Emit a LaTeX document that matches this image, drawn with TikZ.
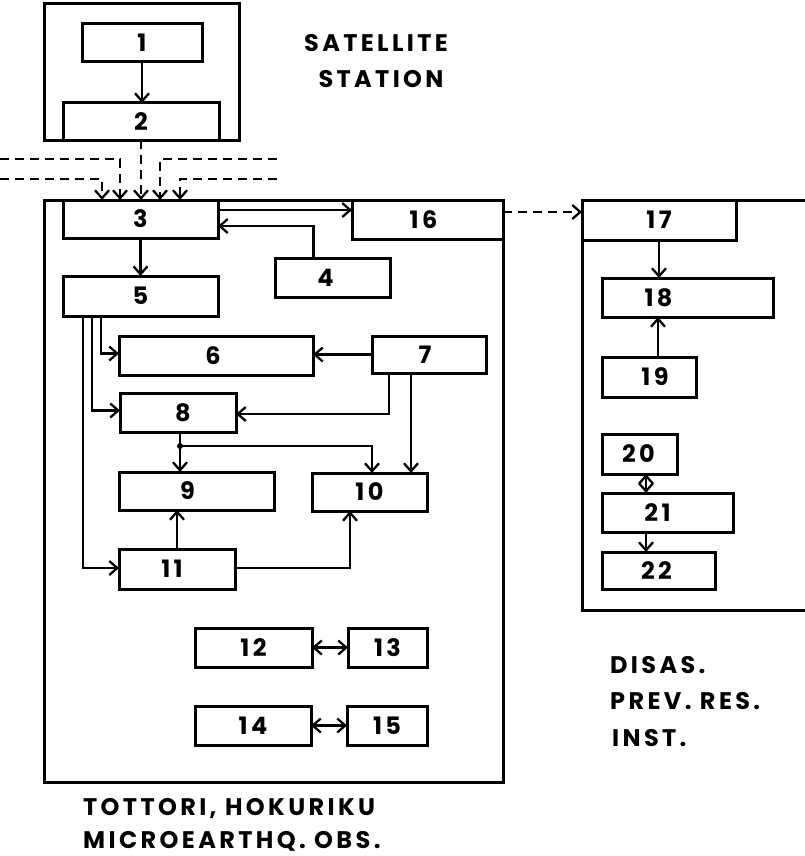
\documentclass[tikz,border=0pt]{standalone}
\usepackage{fontspec}
\setmainfont{Poppins}[LetterSpace=14]
\usetikzlibrary{arrows.meta,calc}
\tikzset{
  box/.style={draw, line width=3pt, inner sep=0pt, outer sep=0pt, font=\fontsize{24}{26}\selectfont\bfseries},
  frame/.style={draw, line width=3pt},
  arr/.style={line width=2.3pt, -{Straight Barb[length=8pt,width=14pt,line width=2.3pt]}},
  darr/.style={line width=2.3pt, {Straight Barb[length=8pt,width=14pt,line width=2.3pt]}-{Straight Barb[length=8pt,width=14pt,line width=2.3pt]}},
  dash arr/.style={arr, dash pattern=on 9pt off 6pt},
  lab/.style={font=\fontsize{24}{26}\selectfont\bfseries, inner sep=0pt}
}
\newcommand\bx[6]{\node[box, minimum width={(#4-#2)*1pt}, minimum height={(#5-#3)*1pt}] (#1) at ({(#2+#4)/2},{(#3+#5)/2}) {#6};}
\begin{document}
\begin{tikzpicture}[x=1pt,y=-1pt]
\useasboundingbox (0,0) rectangle (805,856);
% containers
\draw[frame] (44,4) rectangle (239,140);
\draw[frame] (44,200) rectangle (503,782);
\draw[frame] (805,200) -- (582,200) -- (582,610) -- (805,610);
% satellite station
\bx{b1}{82}{24}{202}{62}{1}
\bx{b2}{63}{103}{219}{140}{2}
% main
\bx{b3}{63}{200}{218}{238}{3}
\bx{b16}{352}{200}{503}{239}{16\hspace*{8pt}}
\bx{b4}{275}{258}{390}{297}{4\hspace*{14pt}}
\bx{b5}{63}{276}{218}{316}{5}
\bx{b6}{119}{336}{313}{375}{6\hspace*{6pt}}
\bx{b7}{372}{336}{486}{373}{7\hspace*{8pt}}
\bx{b8}{120}{393}{236}{432}{\hspace*{10pt}8}
\bx{b9}{119}{472}{274}{510}{9\hspace*{18pt}}
\bx{b10}{312}{473}{427}{511}{10}
\bx{b11}{119}{549}{235}{589}{11\hspace*{10pt}}
\bx{b12}{195}{628}{312}{667}{12}
\bx{b13}{348}{628}{427}{667}{13}
\bx{b14}{195}{706}{311}{745}{14}
\bx{b15}{347}{706}{427}{745}{15}
% DPRI
\bx{b17}{582}{200}{736}{240}{17}
\bx{b18}{602}{278}{773}{317}{18\hspace*{58pt}}
\bx{b19}{602}{357}{696}{397}{\hspace*{12pt}19}
\bx{b20}{602}{434}{677}{474}{20\hspace*{2pt}}
\bx{b21}{602}{493}{733}{532}{21\hspace*{20pt}}
\bx{b22}{602}{552}{715}{589}{22\hspace*{4pt}}
% labels
\node[lab] (sat1) at (376,43) {SATELLITE};
\node[lab] (sat2) at (381,79) {STATION};
\node[lab, anchor=base west] (tot1) at (83,815) {TOTTORI, HOKURIKU};
\node[lab, anchor=base west] (tot2) at (83,848) {MICROEARTHQ. OBS.};
\node[lab, anchor=west] (dp1) at (610,665) {DISAS.};
\node[lab, anchor=west] (dp2) at (610,701) {PREV. RES.};
\node[lab, anchor=west] (dp3) at (612,738) {INST.};
% free ends of incoming dashed lines
\coordinate (dl1) at (0,159);
\coordinate (dl2) at (0,179);
\coordinate (dr1) at (277,159);
\coordinate (dr2) at (277,179);
% connectors
\draw[arr] (b1.south) -- (b1.south |- b2.north);
\draw[dash arr] (b2.south) -- (b2.south |- b3.north);
\draw[dash arr] (dl1) -| ([xshift=57pt]b3.north west);
\draw[dash arr] (dl2) -| ([xshift=39pt]b3.north west);
\draw[dash arr] (dr1) -| ([xshift=97pt]b3.north west);
\draw[dash arr] (dr2) -| ([xshift=117pt]b3.north west);
\draw[arr] ([yshift=-10pt]b3.north east) -- ([yshift=-10pt]b16.north west);
\draw[arr] ([xshift=-19pt]b4.north) |- ([yshift=-26pt]b3.north east);
\draw[arr] (b3.south) -- (b3.south |- b5.north);
\draw[arr] ([xshift=38pt]b5.south west) |- ([yshift=2pt]b6.west);
\draw[arr] ([xshift=29pt]b5.south west) |- ([yshift=2pt]b8.west);
\draw[arr] ([xshift=20pt]b5.south west) |- ([yshift=1pt]b11.west);
\draw[arr] (b7.west) -- (b7.west -| b6.east);
\draw[arr] ([xshift=17pt]b7.south west) |- ([yshift=-1.5pt]b8.east);
\draw[arr] ([xshift=39pt]b7.south west) -- ([xshift=39pt]b7.south west |- b10.north);
\coordinate (j) at ([xshift=60pt,yshift=-14pt]b8.south west);
\draw[line width=2.3pt] (j |- b8.south) -- (j);
\draw[arr] (j) -- (j |- b9.north);
\draw[arr] (j) -| ([xshift=60pt]b10.north west);
\fill (j) circle (3pt);
\draw[arr] ([xshift=58pt]b11.north west) -- ([xshift=58pt]b11.north west |- b9.south);
\draw[arr] ([yshift=1pt]b11.east) -| ([xshift=38pt]b10.south west);
\draw[darr] (b12.east) -- (b13.west);
\draw[darr] (b14.east) -- (b15.west);
\draw[dash arr] ([yshift=-12pt]b16.north east) -- ([yshift=-12pt]b17.north west);
\draw[arr] (b17.south) -- (b17.south |- b18.north);
\draw[arr] ([xshift=56pt]b19.north west) -- ([xshift=56pt]b19.north west |- b18.south);
\draw[darr] ([xshift=44pt]b20.south west) -- ([xshift=44pt]b21.north west);
\draw[arr] ([xshift=44pt]b21.south west) -- ([xshift=44pt]b22.north west);
\end{tikzpicture}
\end{document}
